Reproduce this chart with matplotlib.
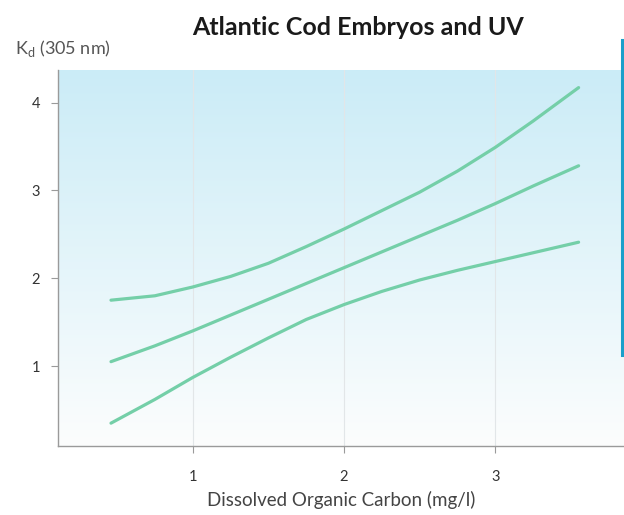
import numpy as np
import matplotlib

matplotlib.use('Agg')
import matplotlib.pyplot as plt
from matplotlib.lines import Line2D

plt.rcParams['font.family'] = ['Lato', 'DejaVu Sans']

# DOC (mg/l) and Kd at 305 nm
doc = [0.46, 0.75, 1.0, 1.25, 1.5, 1.75, 2.0, 2.25, 2.5, 2.75, 3.0, 3.25, 3.55]
kd_upper = [1.75, 1.80, 1.90, 2.02, 2.17, 2.36, 2.56, 2.77, 2.98, 3.22, 3.49, 3.79, 4.17]
kd_middle = [1.05, 1.23, 1.40, 1.58, 1.76, 1.94, 2.12, 2.30, 2.48, 2.66, 2.85, 3.05, 3.28]
kd_lower = [0.35, 0.62, 0.87, 1.10, 1.32, 1.53, 1.70, 1.85, 1.98, 2.09, 2.19, 2.29, 2.41]

xticks = [1, 2, 3]
yticks = [1, 2, 3, 4]

line_color = '#74cfa8'
axis_color = '#9a9a9a'

fig = plt.figure(figsize=(6.24, 5.15), dpi=100)
ax = fig.add_axes([0.093, 0.134, 0.907, 0.730])
ax.set_xlim(0.11, 3.85)
ax.set_ylim(0.09, 4.37)

# background gradient, light blue on top fading to white
top = np.array([203, 236, 247]) / 255.0
bot = np.array([252, 253, 253]) / 255.0
t = np.linspace(0, 1, 256)[:, None]
grad = (top * (1 - t) + bot * t)[:, None, :]
ax.imshow(grad, extent=[0, 1, 0, 1], transform=ax.transAxes, aspect='auto', zorder=0)

for xv in xticks:
    ax.axvline(xv, color='#e2e6e8', lw=0.8, zorder=1)

for k in (kd_upper, kd_middle, kd_lower):
    ax.plot(doc, k, color=line_color, lw=2.3, solid_capstyle='round', zorder=3)

for s in ('top', 'right'):
    ax.spines[s].set_visible(False)
for s in ('left', 'bottom'):
    ax.spines[s].set_color(axis_color)
    ax.spines[s].set_linewidth(1.0)

ax.set_xticks(xticks)
ax.set_yticks(yticks)
ax.set_xticklabels([str(v) for v in xticks])
ax.set_yticklabels([str(v) for v in yticks])
ax.tick_params(axis='both', colors=axis_color, labelcolor='#333333', labelsize=10.5, length=5, width=0.8)
ax.tick_params(axis='x', pad=12)
ax.tick_params(axis='y', pad=8)

ax.set_xlabel('Dissolved Organic Carbon (mg/l)', fontsize=13.5, color='#444444', labelpad=5)

fig.text(0.574, 0.946, 'Atlantic Cod Embryos and UV', ha='center', va='center',
         fontsize=18, fontweight='bold', color='#1a1a1a')
fig.text(0.024, 0.905, r'K$_\mathregular{d}$ (305 nm)', ha='left', va='center',
         fontsize=13, color='#555555')

# blue marker line at right edge
fig.add_artist(Line2D([0.997, 0.997], [0.922, 0.311], color='#1a9fca', lw=2.2))

fig.savefig('out.png', dpi=100)
plt.close('all')
